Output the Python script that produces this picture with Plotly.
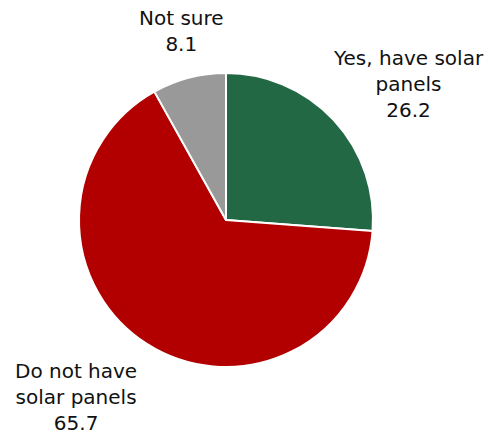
import plotly.graph_objects as go

labels = ["Yes, have solar panels", "Do not have solar panels", "Not sure"]
values = [26.2, 65.7, 8.1]
colors = ["#236845", "#B20000", "#999999"]

# label text as drawn around the pie, with its centre position in pixels
label_text = ["Yes, have solar<br>panels<br>26.2", "Do not have<br>solar panels<br>65.7", "Not sure<br>8.1"]
label_pos = [(408, 84), (76, 397), (181, 31)]

W, H = 487, 437

fig = go.Figure(go.Pie(
    labels=labels,
    values=values,
    sort=False,
    direction="clockwise",
    rotation=0,
    marker=dict(colors=colors, line=dict(color="white", width=2)),
    textinfo="none",
    hoverinfo="label+value",
    domain=dict(x=[79 / W, 373 / W], y=[(H - 367) / H, (H - 73) / H]),
    showlegend=False,
))

for txt, (px, py) in zip(label_text, label_pos):
    fig.add_annotation(
        x=px / W, y=1 - py / H, xref="paper", yref="paper",
        text=txt, showarrow=False, align="center",
        xanchor="center", yanchor="middle",
        font=dict(family="DejaVu Sans", size=20, color="#111111"),
    )

fig.update_layout(
    width=W, height=H,
    margin=dict(l=0, r=0, t=0, b=0),
    paper_bgcolor="white",
    plot_bgcolor="white",
)

fig.write_html("out.html")
